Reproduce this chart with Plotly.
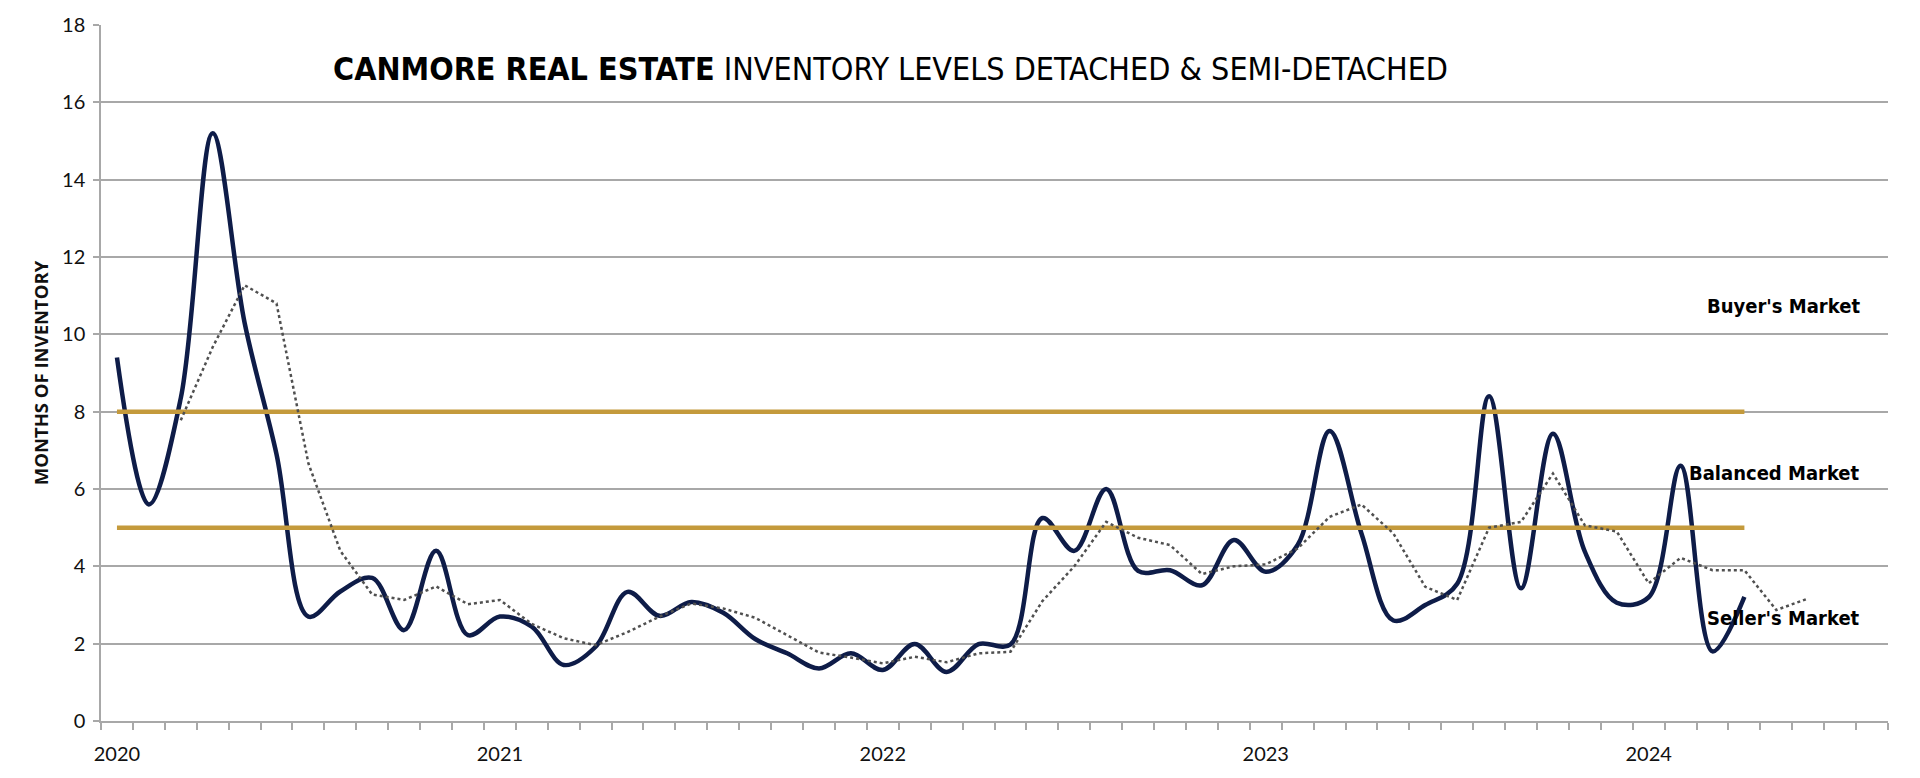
import plotly.graph_objects as go

# ---- data ----
year_labels = ["2020", "2021", "2022", "2023", "2024"]
year_positions = [0, 12, 24, 36, 48]          # month index of each January
n_months = 56                                  # Jan 2020 .. Aug 2024 slots on the axis

# months of inventory, Jan 2020 .. Apr 2024
inventory = [9.4, 5.6, 8.35, 15.2, 10.3, 6.9, 2.7, 3.35, 3.7, 2.35, 4.4, 2.22,
             2.7, 2.44, 1.45, 1.92, 3.34, 2.72, 3.08, 2.8, 2.12, 1.75, 1.36, 1.75,
             1.32, 1.99, 1.27, 1.99, 1.98, 5.25, 4.4, 6.0, 3.88, 3.9, 3.51, 4.68,
             3.86, 4.55, 7.5, 4.85, 2.6, 3.0, 3.55, 8.4, 3.43, 7.43, 4.38, 3.06,
             3.2, 6.6, 1.8, 3.21]

# dotted trend line, Mar 2020 .. Jun 2024
trend_start = 2
trend = [7.78, 9.67, 11.27, 10.8, 6.66, 4.4, 3.27, 3.13, 3.48, 3.02,
         3.13, 2.51, 2.14, 1.96, 2.3, 2.7, 3.04, 2.91, 2.67, 2.22,
         1.77, 1.64, 1.49, 1.66, 1.52, 1.75, 1.79, 3.1, 4.0, 5.15,
         4.74, 4.55, 3.8, 4.0, 4.05, 4.46, 5.28, 5.6, 4.85, 3.47,
         3.13, 5.0, 5.15, 6.4, 5.06, 4.9, 3.56, 4.22, 3.9, 3.9,
         2.87, 3.17]

buyer_level = 8
seller_level = 5
threshold_months = [0, 51]

title_bold = "CANMORE REAL ESTATE"
title_rest = " INVENTORY LEVELS DETACHED & SEMI-DETACHED"
market_labels = ["Buyer's Market", "Balanced Market", "Seller's Market"]

# ---- styling ----
NAVY = "#0e1c48"
GOLD = "#c49a3c"
GRID = "#a8a8a8"
DOT = "#505050"
COND = "Liberation Sans Narrow, Arial Narrow, DejaVu Sans Condensed, Roboto Condensed, sans-serif"
TICKFONT = dict(family="Lato, Carlito, Calibri, sans-serif", size=20, color="#111111")

fig = go.Figure()

fig.add_trace(go.Scatter(
    x=list(range(len(inventory))), y=inventory, mode="lines",
    line=dict(color=NAVY, width=4.5, shape="spline", smoothing=1),
    hoverinfo="skip", showlegend=False))

for lvl in (buyer_level, seller_level):
    fig.add_trace(go.Scatter(
        x=threshold_months, y=[lvl, lvl], mode="lines",
        line=dict(color=GOLD, width=4.5), hoverinfo="skip", showlegend=False))

fig.add_trace(go.Scatter(
    x=list(range(trend_start, trend_start + len(trend))), y=trend, mode="lines",
    line=dict(color=DOT, width=2.5, dash="dot"),
    hoverinfo="skip", showlegend=False))

fig.update_layout(
    width=1920, height=778,
    margin=dict(l=101, r=32, t=25, b=57),
    paper_bgcolor="white", plot_bgcolor="white",
    showlegend=False,
)

fig.update_xaxes(
    range=[-0.5, n_months - 0.5],
    tickmode="array", tickvals=year_positions, ticktext=year_labels,
    ticks="", tickfont=TICKFONT, ticklabelstandoff=14,
    showgrid=False, zeroline=False,
    showline=True, linecolor=GRID, linewidth=1.5,
    minor=dict(tickmode="linear", tick0=-0.5, dtick=1, ticks="outside",
               ticklen=7, tickwidth=1.5, tickcolor=GRID, showgrid=False),
)

fig.update_yaxes(
    range=[0, 18], tickmode="linear", tick0=0, dtick=2,
    tickfont=TICKFONT, ticks="outside", ticklen=6, tickwidth=1.5, tickcolor=GRID,
    ticklabelstandoff=4,
    showgrid=True, gridcolor=GRID, gridwidth=1.5, zeroline=False,
    showline=True, linecolor=GRID, linewidth=1.5,
    title=dict(text="<b>MONTHS OF INVENTORY</b>",
               font=dict(family="Open Sans, Lato, sans-serif", size=18.5, color="#111111",
                         weight=800),
               standoff=9),
)

fig.add_annotation(
    xref="paper", yref="paper", x=0.442, y=0.937, xanchor="center", yanchor="middle",
    text=f"<b>{title_bold}</b>{title_rest}", showarrow=False,
    font=dict(family=COND, size=32, color="#000000"))

label_y = [10.72, 6.41, 2.66]
for txt, yv in zip(market_labels, label_y):
    fig.add_annotation(
        xref="paper", yref="y", x=(1862 - 101) / 1787, y=yv, xanchor="right", yanchor="middle",
        text=f"<b>{txt}</b>", showarrow=False,
        font=dict(family=COND, size=20, color="#000000"))

fig.write_html("out.html", config={"displayModeBar": False},
               post_script="document.body.style.margin='0';document.body.style.padding='0';")
